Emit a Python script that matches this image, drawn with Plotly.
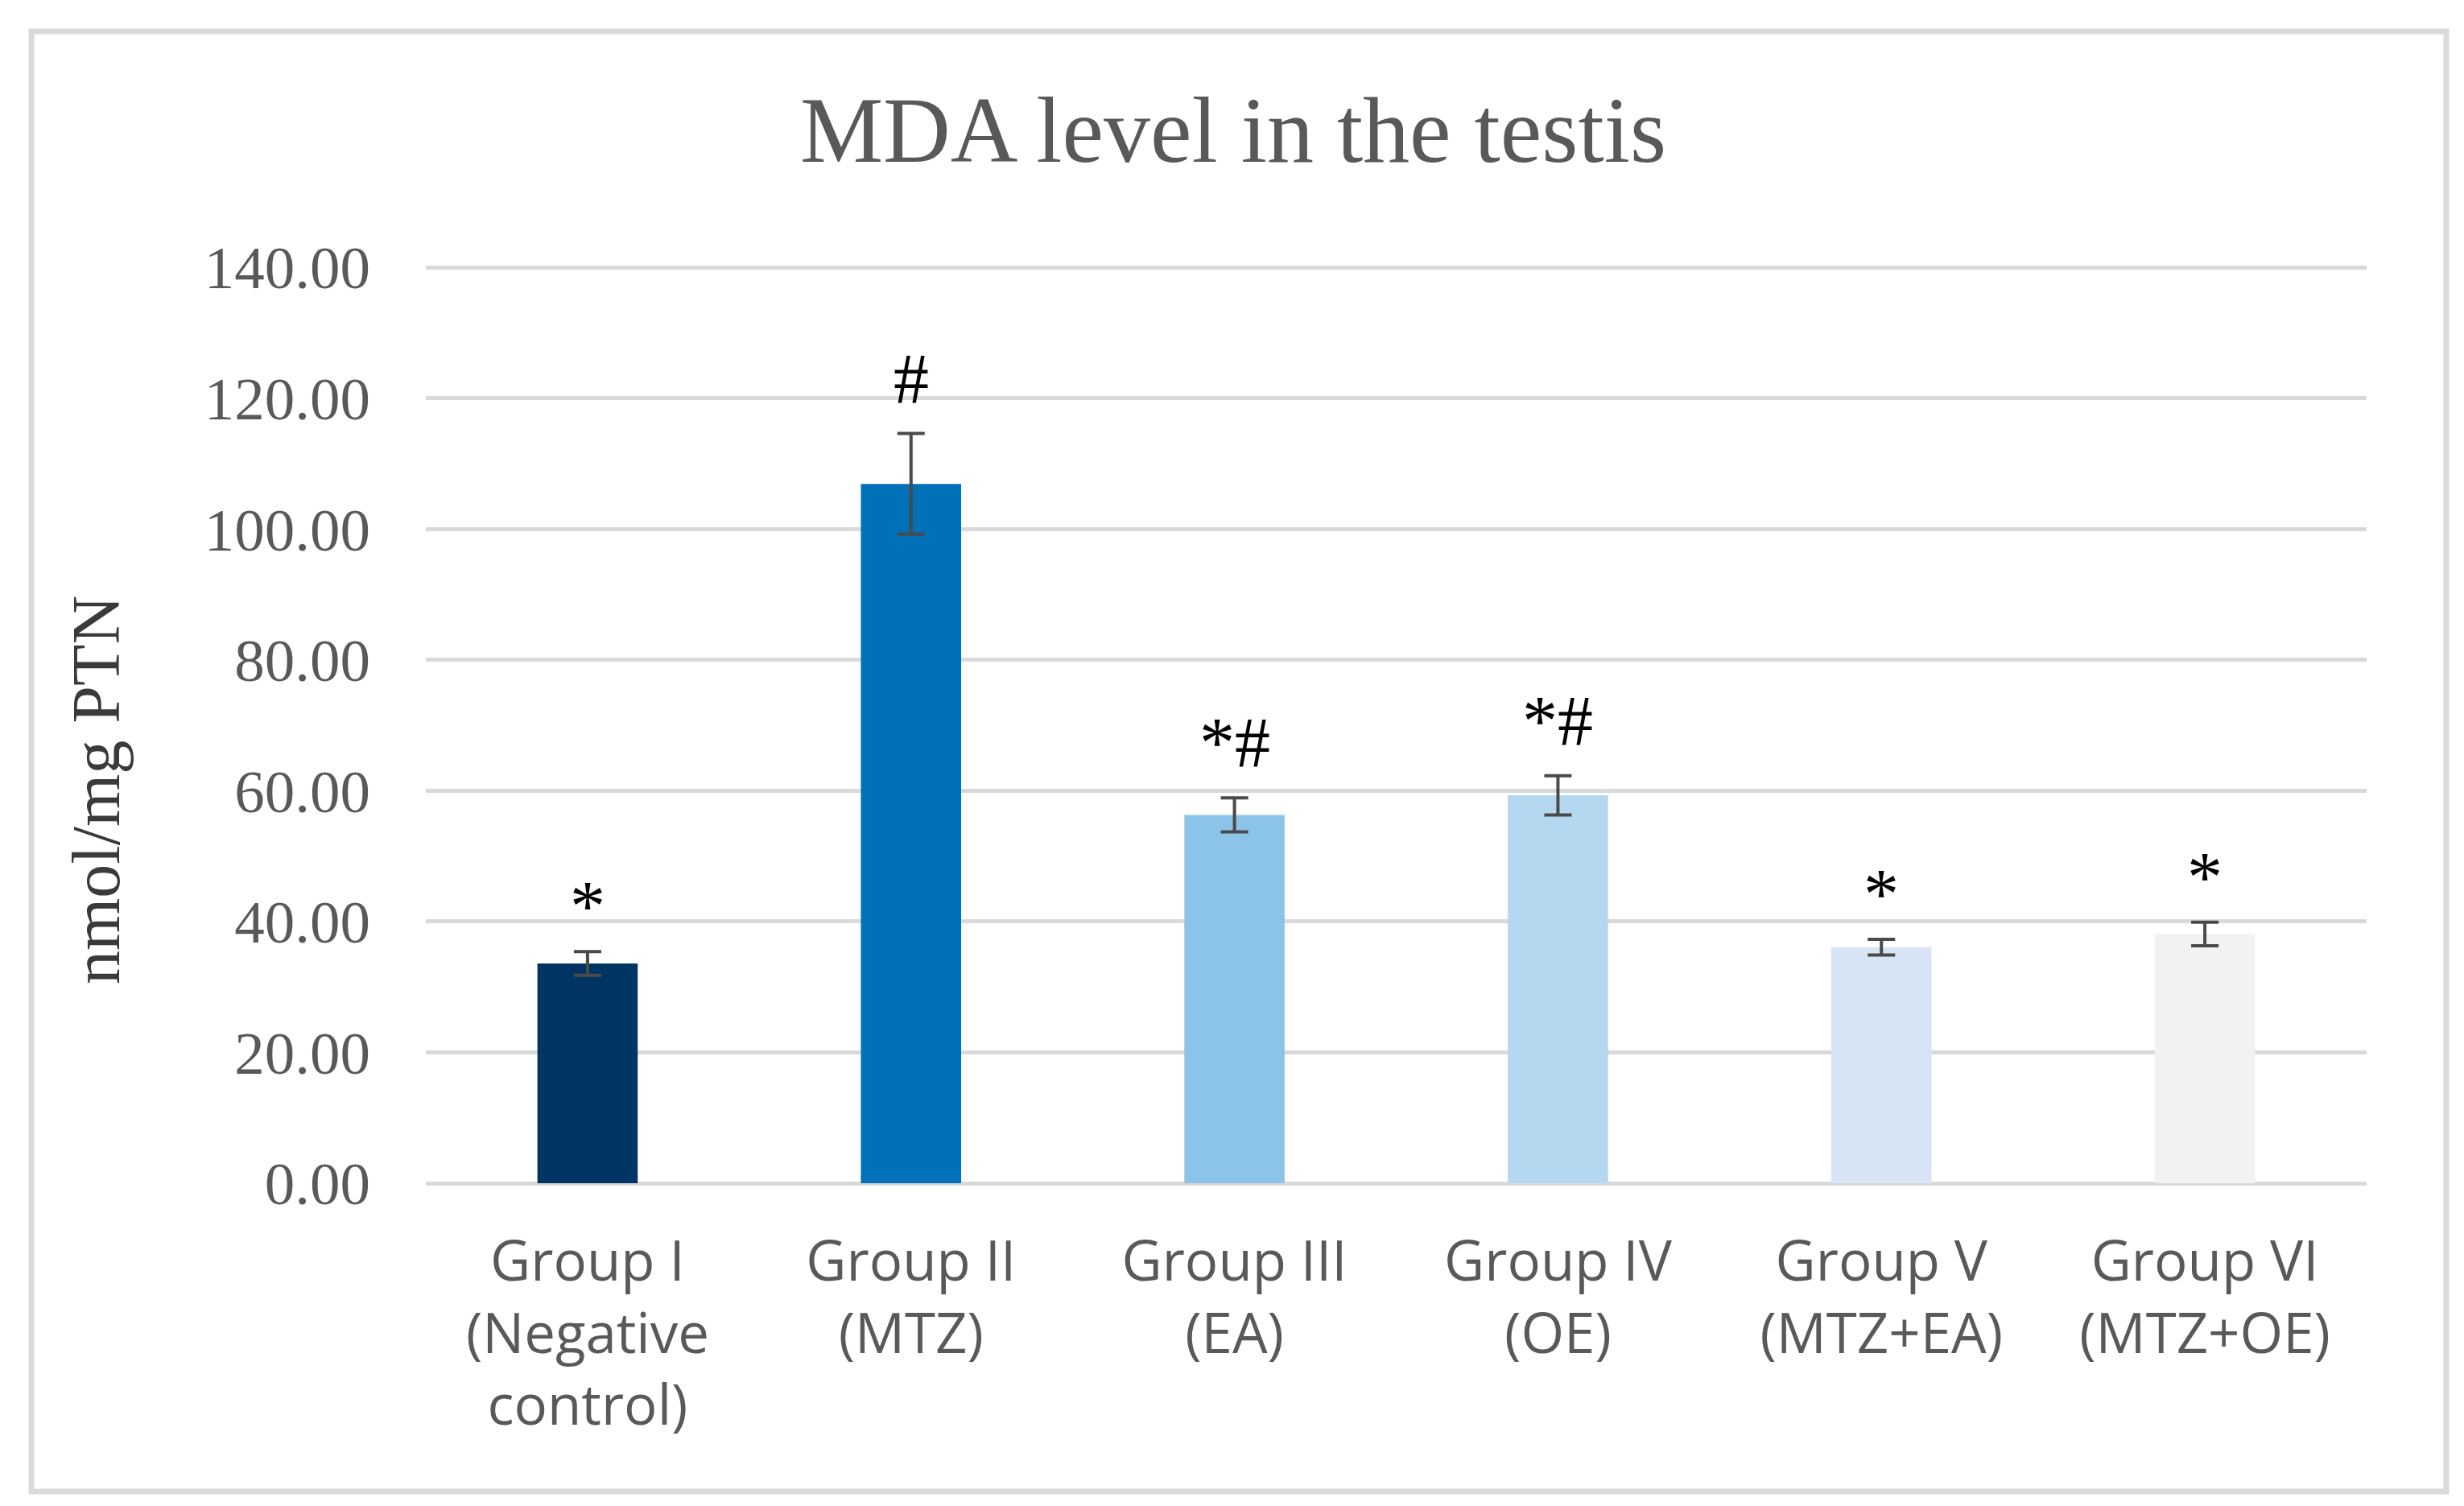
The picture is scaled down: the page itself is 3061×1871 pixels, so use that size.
import plotly.graph_objects as go

# data
groups = ["Group I", "Group II", "Group III", "Group IV", "Group V", "Group VI"]
tick_text = [
    "Group I<br>(Negative<br>control)",
    "Group II<br>(MTZ)",
    "Group III<br>(EA)",
    "Group IV<br>(OE)",
    "Group V<br>(MTZ+EA)",
    "Group VI<br>(MTZ+OE)",
]
mda = [33.6, 106.9, 56.3, 59.3, 36.1, 38.1]
sem = [1.8, 7.7, 2.6, 3.0, 1.2, 1.8]
signif = ["*", "#", "*#", "*#", "*", "*"]
y_ticks = [0, 20, 40, 60, 80, 100, 120, 140]

bar_colors = ["#003462", "#0070b8", "#8cc3e8", "#b4d8f0", "#d6e4f5", "#f2f2f2"]
serif = "Liberation Serif, Times New Roman, serif"
sans = "Open Sans, Noto Sans, sans-serif"

W, H = 3061, 1871
ml, mr, mt, mb = 521, 129, 316, 404
pw, ph = W - ml - mr, H - mt - mb

def px_x(p):
    return (p - ml) / pw

def px_y(p):
    return (H - mb - p) / ph

fig = go.Figure()
fig.add_trace(go.Bar(
    x=groups,
    y=mda,
    marker=dict(color=bar_colors, line_width=0),
    error_y=dict(type="data", array=sem, visible=True,
                 color="#4a4a4a", thickness=4, width=17),
    width=0.31,
    showlegend=False,
))

# significance marks just above each error bar
for g, m, e, s in zip(groups, mda, sem, signif):
    fig.add_annotation(
        x=g, y=m + e, text=s, showarrow=False,
        yanchor="bottom", yshift=18 if "#" in s else 6,
        font=dict(family=serif, size=88, color="#000000"),
    )

# y axis title sits a little below the plot centre in the original
fig.add_annotation(
    xref="paper", yref="paper", x=px_x(112), y=px_y(974),
    text="nmol/mg PTN", textangle=-90, showarrow=False,
    xanchor="center", yanchor="middle",
    font=dict(family=serif, size=84, color="#3a3a3a"),
)

# light grey frame around whole chart
fig.add_shape(type="rect", xref="paper", yref="paper",
              x0=px_x(31), x1=px_x(3031), y0=px_y(1845), y1=px_y(31),
              line=dict(color="#dadada", width=7), fillcolor="rgba(0,0,0,0)",
              layer="below")

fig.update_layout(
    width=W, height=H,
    margin=dict(l=ml, r=mr, t=mt, b=mb),
    paper_bgcolor="white", plot_bgcolor="white",
    title=dict(text="MDA level in the testis", x=(1530 - 6) / W, xref="container",
               xanchor="center",
               y=1 - 152 / H, yanchor="middle", yref="container",
               font=dict(family=serif, size=116, color="#595959")),
    bargap=0.69,
)
fig.update_xaxes(
    tickvals=groups, ticktext=tick_text,
    tickfont=dict(family=sans, size=69, color="#595959"),
    ticks="", showgrid=False, showline=False, zeroline=False,
    ticklabelstandoff=46,
)
fig.update_yaxes(
    range=[-0.6, 141], tickvals=y_ticks, tickformat=".2f",
    tickfont=dict(family=serif, size=75, color="#595959"),
    showgrid=True, gridcolor="#d9d9d9", gridwidth=5,
    zeroline=False, showline=False, ticks="",
    ticklabelstandoff=68,
)

fig.write_html("out.html")
